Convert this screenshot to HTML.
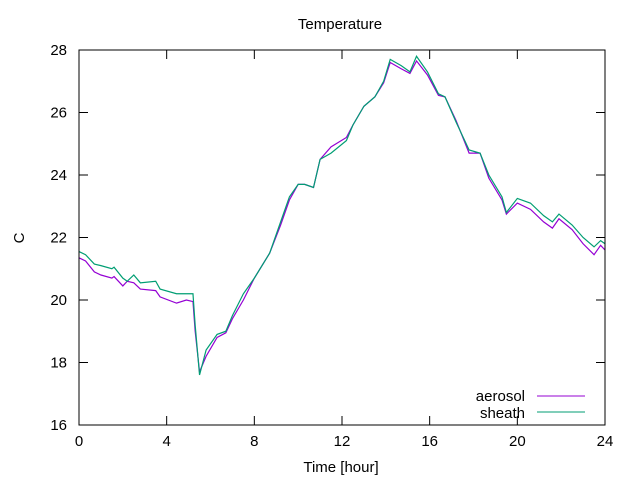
<!DOCTYPE html>
<html><head><meta charset="utf-8"><style>
body{margin:0;background:#fff}
svg text{font-family:"Liberation Sans",sans-serif;font-size:15px;fill:#000}
</style></head><body>
<svg id="chart" width="640" height="480" xmlns="http://www.w3.org/2000/svg">
<text x="340" y="29" text-anchor="middle">Temperature</text>
<text x="341" y="472" text-anchor="middle">Time [hour]</text>
<text x="19" y="243" text-anchor="middle" transform="rotate(-90 19 238)">C</text>
<g id="ticks"></g>
<g id="series"></g>
<rect x="79" y="50" width="526" height="375" fill="none" stroke="#000" stroke-width="1"/>
<g>
<text x="525" y="401" text-anchor="end">aerosol</text>
<line x1="537" y1="396" x2="585" y2="396" stroke="#9400d3" stroke-width="1"/>
<text x="525" y="418" text-anchor="end">sheath</text>
<line x1="537" y1="412" x2="585" y2="412" stroke="#009e73" stroke-width="1"/>
</g>
</svg>
<script>
const xTicks=[0,4,8,12,16,20,24];
const yTicks=[16,18,20,22,24,26,28];
const sheathHours=[0,0.3,0.7,1,1.5,1.6,2.0,2.2,2.5,2.8,3.5,3.7,4.45,4.9,5.2,5.3,5.5,5.8,6.3,6.7,7,7.5,8,8.7,9.2,9.6,10,10.3,10.7,11,11.5,12.2,12.5,13,13.5,13.9,14.2,14.7,15.1,15.4,15.9,16.4,16.7,17.2,17.8,18.3,18.7,19.3,19.5,20,20.6,21.2,21.6,21.9,22.5,23,23.5,23.8,24];
const sheathTemps=[21.55,21.45,21.15,21.1,21.0,21.05,20.7,20.6,20.8,20.55,20.6,20.35,20.2,20.2,20.2,19.2,17.6,18.4,18.9,19.0,19.5,20.2,20.7,21.5,22.5,23.3,23.7,23.7,23.6,24.5,24.7,25.1,25.6,26.2,26.5,27.0,27.7,27.5,27.3,27.8,27.3,26.6,26.5,25.7,24.8,24.7,24.0,23.3,22.8,23.25,23.1,22.7,22.5,22.75,22.4,22.0,21.7,21.9,21.8];
const aerosolHours=[0,0.3,0.7,1,1.5,1.6,2.0,2.2,2.5,2.8,3.5,3.7,4.45,4.9,5.2,5.3,5.5,5.8,6.3,6.7,7,7.5,8,8.7,9.2,9.6,10,10.3,10.7,11,11.5,12.2,12.5,13,13.5,13.9,14.2,14.7,15.1,15.4,15.9,16.4,16.7,17.2,17.8,18.3,18.7,19.3,19.5,20,20.6,21.2,21.6,21.9,22.5,23,23.5,23.8,24];
const aerosolTemps=[21.35,21.25,20.9,20.8,20.7,20.75,20.45,20.6,20.55,20.35,20.3,20.1,19.9,20.0,19.95,19.0,17.7,18.2,18.8,18.95,19.4,20.0,20.7,21.5,22.4,23.2,23.7,23.7,23.6,24.5,24.9,25.2,25.6,26.2,26.5,26.95,27.6,27.4,27.25,27.65,27.2,26.55,26.5,25.75,24.7,24.7,23.9,23.2,22.75,23.1,22.9,22.5,22.3,22.6,22.25,21.8,21.45,21.75,21.6];
const X=h=>79+h*(526/24);
const Y=t=>425-(t-16)*(375/12);
const NS="http://www.w3.org/2000/svg";
const tg=document.getElementById('ticks');
function mk(tag,attrs,parent){const e=document.createElementNS(NS,tag);for(const k in attrs)e.setAttribute(k,attrs[k]);parent.appendChild(e);return e;}
xTicks.forEach(v=>{
  const x=X(v);
  const t1=mk('line',{x1:x,y1:425,x2:x,y2:416,stroke:'#000'},tg);
  
  
  const t2=mk('line',{x1:x,y1:50,x2:x,y2:59,stroke:'#000'},tg);
  
  
  const l=mk('text',{x:x,y:446,'text-anchor':'middle'},tg);l.textContent=v;
  
  
});
yTicks.forEach(v=>{
  const y=Y(v);
  const t1=mk('line',{x1:79,y1:y,x2:88,y2:y,stroke:'#000'},tg);
  
  
  const t2=mk('line',{x1:605,y1:y,x2:596,y2:y,stroke:'#000'},tg);
  
  
  const l=mk('text',{x:67,y:y+5,'text-anchor':'end'},tg);l.textContent=v;
  
  
});
const sg=document.getElementById('series');
const pa=mk('polyline',{points:aerosolHours.map((h,i)=>X(h)+','+Y(aerosolTemps[i])).join(' '),fill:'none',stroke:'#9400d3','stroke-width':1.2},sg);


const ps=mk('polyline',{points:sheathHours.map((h,i)=>X(h)+','+Y(sheathTemps[i])).join(' '),fill:'none',stroke:'#009e73','stroke-width':1.2},sg);


</script>
</body></html>
